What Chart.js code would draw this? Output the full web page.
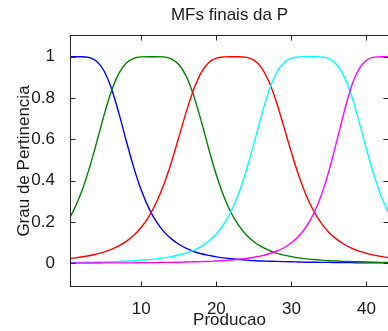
<!DOCTYPE html>
<html>
<head>
<meta charset="utf-8">
<script src="https://cdn.jsdelivr.net/npm/chart.js@4.4.1/dist/chart.umd.min.js"></script>
<style>
  html, body { margin: 0; padding: 0; background: #fff; overflow: hidden; }
</style>
</head>
<body>
<canvas id="mf-chart" width="400" height="331"></canvas>
<script>
// x samples (Producao) and membership degrees
var producao = [0.5, 1, 2, 3, 4, 5, 6, 7, 8, 9, 10, 11, 12, 13, 14, 15, 16, 17, 18, 19, 20, 21,
  22, 23, 24, 25, 26, 27, 28, 29, 30, 31, 32, 33, 34, 35, 36, 37, 38, 39, 40, 41, 42, 43];

var mfBlue = [0.999, 1.000, 1.000, 0.997, 0.979, 0.933, 0.848, 0.728, 0.592, 0.463, 0.353, 0.267,
  0.201, 0.153, 0.118, 0.092, 0.072, 0.057, 0.046, 0.038, 0.031, 0.026, 0.022, 0.018, 0.015, 0.013,
  0.011, 0.010, 0.009, 0.008, 0.007, 0.006, 0.005, 0.005, 0.004, 0.004, 0.003, 0.003, 0.003, 0.002,
  0.002, 0.002, 0.002, 0.002];
var mfGreen = [0.222, 0.257, 0.342, 0.451, 0.578, 0.712, 0.831, 0.918, 0.970, 0.992, 0.999, 1.000,
  1.000, 0.999, 0.990, 0.962, 0.904, 0.809, 0.686, 0.552, 0.427, 0.323, 0.242, 0.182, 0.137, 0.104,
  0.080, 0.063, 0.049, 0.039, 0.032, 0.026, 0.021, 0.018, 0.015, 0.012, 0.011, 0.009, 0.008, 0.007,
  0.006, 0.005, 0.004, 0.004];
var mfRed = [0.023, 0.025, 0.030, 0.036, 0.044, 0.054, 0.067, 0.084, 0.106, 0.135, 0.174, 0.226,
  0.294, 0.381, 0.488, 0.610, 0.734, 0.843, 0.924, 0.972, 0.993, 0.999, 1.000, 1.000, 0.997, 0.983,
  0.947, 0.880, 0.781, 0.660, 0.536, 0.422, 0.326, 0.251, 0.193, 0.149, 0.117, 0.092, 0.073, 0.059,
  0.048, 0.039, 0.032, 0.027];
var mfCyan = [0.003, 0.004, 0.004, 0.005, 0.006, 0.006, 0.007, 0.009, 0.010, 0.012, 0.015, 0.017,
  0.021, 0.026, 0.032, 0.040, 0.050, 0.064, 0.082, 0.108, 0.142, 0.190, 0.254, 0.340, 0.450, 0.579,
  0.714, 0.834, 0.921, 0.971, 0.993, 0.999, 1.000, 1.000, 0.999, 0.990, 0.963, 0.906, 0.812, 0.688,
  0.552, 0.426, 0.321, 0.240];
var mfMagenta = [0.001, 0.001, 0.001, 0.001, 0.001, 0.002, 0.002, 0.002, 0.002, 0.002, 0.003, 0.003,
  0.003, 0.004, 0.004, 0.005, 0.006, 0.007, 0.008, 0.009, 0.011, 0.013, 0.016, 0.019, 0.023, 0.029,
  0.036, 0.046, 0.058, 0.075, 0.099, 0.132, 0.179, 0.243, 0.331, 0.447, 0.585, 0.730, 0.856, 0.940,
  0.983, 0.998, 1.000, 1.000];

var xTicks = [10, 20, 30, 40];
var yTicks = [0, 0.2, 0.4, 0.6, 0.8, 1];

var txt = '#1a1a1a';
var fontFam = '"Liberation Sans", Arial, Helvetica, sans-serif';

function pts(ys) {
  return producao.map(function (x, i) { return { x: x, y: ys[i] }; });
}

function mf(ys, color) {
  return {
    data: pts(ys),
    borderColor: color,
    borderWidth: 1.4,
    pointRadius: 0,
    fill: false,
    cubicInterpolationMode: 'monotone'
  };
}

// MATLAB style box with inward ticks on all four sides
var boxTicks = {
  id: 'boxTicks',
  afterDatasetsDraw: function (chart) {
    var ctx = chart.ctx, a = chart.chartArea;
    var sx = chart.scales.x, sy = chart.scales.y;
    var L = Math.round(a.left) + 0.5, R = Math.round(a.right) - 0.5;
    var T = Math.round(a.top) + 0.5, B = Math.round(a.bottom) - 0.5;
    ctx.save();
    ctx.strokeStyle = '#262626';
    ctx.lineWidth = 1;
    ctx.strokeRect(L, T, R - L, B - T);
    ctx.beginPath();
    xTicks.forEach(function (v) {
      var px = Math.round(sx.getPixelForValue(v)) + 0.5;
      ctx.moveTo(px, B); ctx.lineTo(px, B - 5);
      ctx.moveTo(px, T); ctx.lineTo(px, T + 5);
    });
    yTicks.forEach(function (v) {
      var py = Math.round(sy.getPixelForValue(v)) + 0.5;
      ctx.moveTo(L, py); ctx.lineTo(L + 5, py);
      ctx.moveTo(R, py); ctx.lineTo(R - 5, py);
    });
    ctx.stroke();
    ctx.restore();
  }
};

var ctx = document.getElementById('mf-chart').getContext('2d');
new Chart(ctx, {
  type: 'line',
  data: {
    // reversed so that the later MFs sit on top, as in the original
    datasets: [
      mf(mfMagenta, '#ff00ff'),
      mf(mfCyan, '#00ffff'),
      mf(mfRed, '#ff0000'),
      mf(mfGreen, '#008000'),
      mf(mfBlue, '#0000ff')
    ]
  },
  options: {
    responsive: false,
    animation: false,
    devicePixelRatio: 1,
    layout: { padding: { left: 0, right: 11, top: 0, bottom: 0 } },
    plugins: {
      legend: { display: false },
      tooltip: { enabled: false },
      title: {
        display: true,
        fullSize: false,
        text: 'MFs finais da P',
        color: txt,
        font: { family: fontFam, size: 17, weight: 'normal' },
        padding: { top: 5.5, bottom: 9.1 }
      }
    },
    scales: {
      x: {
        type: 'linear',
        min: 0.5,
        max: 43,
        grid: { display: false },
        border: { display: false },
        afterBuildTicks: function (s) { s.ticks = xTicks.map(function (v) { return { value: v }; }); },
        afterFit: function (s) { s.height = 44; },
        ticks: {
          color: txt,
          padding: 4,
          maxRotation: 0,
          font: { family: fontFam, size: 17 },
          callback: function (v) { return String(v); }
        },
        title: {
          display: true,
          text: 'Producao',
          color: txt,
          font: { family: fontFam, size: 17 },
          padding: { top: 0, bottom: 0 }
        }
      },
      y: {
        min: -0.115,
        max: 1.105,
        grid: { display: false },
        border: { display: false },
        afterBuildTicks: function (s) { s.ticks = yTicks.map(function (v) { return { value: v }; }); },
        afterFit: function (s) { s.width = 70; },
        ticks: {
          color: txt,
          padding: 7,
          font: { family: fontFam, size: 17 },
          callback: function (v) { return String(v); }
        },
        title: {
          display: true,
          text: 'Grau de Pertinencia',
          color: txt,
          font: { family: fontFam, size: 17 },
          padding: { top: 14, bottom: 0 }
        }
      }
    }
  },
  plugins: [boxTicks]
});
</script>
</body>
</html>
